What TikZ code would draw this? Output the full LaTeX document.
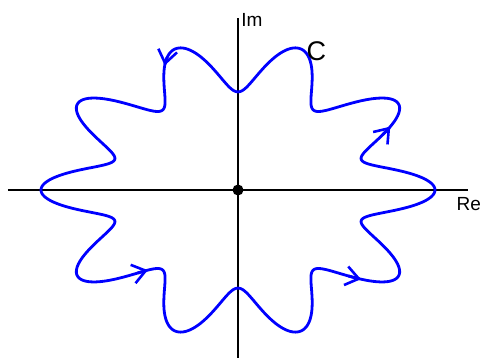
\documentclass[tikz,border=0pt]{standalone}
\usepackage{fontspec}
\setmainfont{Liberation Sans}
\usetikzlibrary{arrows.meta}
\tikzset{
  axis/.style={draw=black, line width=1.2pt},
  contour/.style={draw=blue, line width=2.8pt, line join=round, line cap=round},
  barb/.style={contour, -{Straight Barb[length=13pt,width=19pt,line width=2.6pt]}},
  lbl/.style={inner sep=0pt, anchor=base west, font=\fontsize{19}{19}\selectfont},
}
\newcommand{\cx}[1]{{163.35*(1+0.206*cos(10*(#1)))*cos(#1)}}
\newcommand{\cy}[1]{{123.55*(1+0.206*cos(10*(#1)))*sin(#1)}}
\begin{document}
\begin{tikzpicture}[x=1pt,y=1pt]
\useasboundingbox (-238,-168) rectangle (245,190);
% axes
\coordinate (xl) at (-230,0);
\coordinate (xr) at (230,0);
\coordinate (yb) at (0,-170);
\coordinate (yt) at (0,172);
\draw[axis] (xl) -- (xr);
\draw[axis] (yb) -- (yt);
% contour
\draw[contour] plot[domain=0:360, samples=721, smooth, variable=\t] (\cx{\t}, \cy{\t}) -- cycle;
% arrows along the contour
\foreach \a in {28.8, 114, 229.6, 316.2} {
  \draw[barb] plot[domain=\a-2:\a, samples=5, smooth, variable=\t] (\cx{\t}, \cy{\t});
}
% origin
\node[circle, fill=black, minimum size=11pt, inner sep=0pt] (o) at (0,0) {};
% labels
\node[lbl] (im) at (3.2,163) {Im};
\node[lbl] (re) at (218.5,-21) {Re};
\node[lbl, font=\fontsize{27}{27}\selectfont] (c) at (68.5,129) {C};
\end{tikzpicture}
\end{document}
